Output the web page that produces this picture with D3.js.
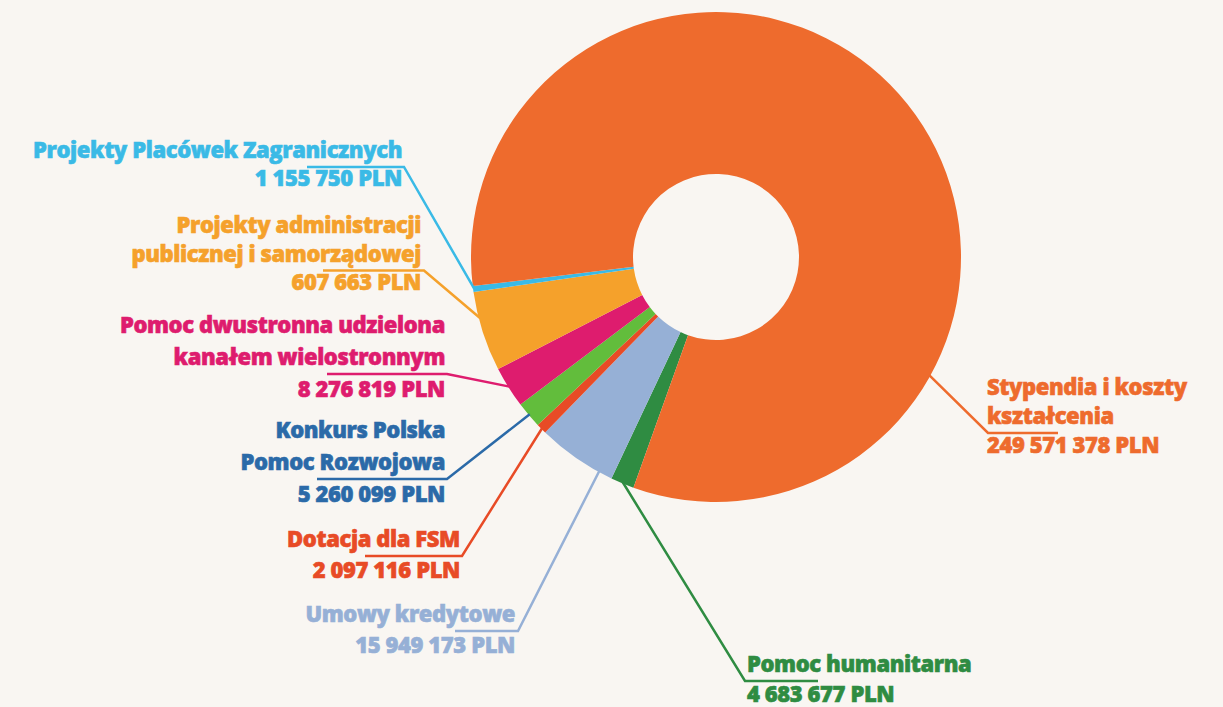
<!DOCTYPE html>
<html>
<head>
<meta charset="utf-8">
<script src="https://cdn.jsdelivr.net/npm/d3@7"></script>
<style>
  html, body { margin: 0; padding: 0; background: #F9F6F2; }
  svg { display: block; }
  text { font-family: "Open Sans", Lato, sans-serif; font-weight: 800; }
</style>
</head>
<body>
<svg id="chart" width="1223" height="707"></svg>
<script>
// ---- data (clockwise order, starting at the dark-green slice) ----
const categories = [
  "Pomoc humanitarna",
  "Umowy kredytowe",
  "Dotacja dla FSM",
  "Konkurs Polska Pomoc Rozwojowa",
  "Pomoc dwustronna udzielona kanałem wielostronnym",
  "Projekty administracji publicznej i samorządowej",
  "Projekty Placówek Zagranicznych",
  "Stypendia i koszty kształcenia"
];
// amounts printed in the labels (PLN)
const labelValues = [4683677, 15949173, 2097116, 5260099, 8276819, 607663, 1155750, 249571378];
// slice sizes as drawn in the picture (the yellow slice is drawn far larger than its label)
const sliceValues = [4683677, 15949173, 2097116, 5260099, 8276819, 16000000, 1155750, 249571378];
// label text lines (the amount line is added from labelValues)
const labelLines = [
  ["Pomoc humanitarna"],
  ["Umowy kredytowe"],
  ["Dotacja dla FSM"],
  ["Konkurs Polska", "Pomoc Rozwojowa"],
  ["Pomoc dwustronna udzielona", "kanałem wielostronnym"],
  ["Projekty administracji", "publicznej i samorządowej"],
  ["Projekty Placówek Zagranicznych"],
  ["Stypendia i koszty", "kształcenia"]
];
const sliceColors = ["#2F8C42", "#96B0D6", "#E84B26", "#62BD3C", "#DE1C6E", "#F5A12B", "#3ABAE6", "#EE6B2D"];
const textColors  = ["#2F8C42", "#96B0D6", "#E84B26", "#2B6AA8", "#DE1C6E", "#F5A12B", "#3ABAE6", "#EE6B2D"];

// ---- layout ----
const cx = 716, cy = 257, rOuter = 245, rInner = 83;
const deg = Math.PI / 180;
const startA = 199.7 * deg;

const svg = d3.select("#chart");
const g = svg.append("g").attr("transform", `translate(${cx},${cy})`);

const pie = d3.pie().sort(null).value(d => d.v).startAngle(startA).endAngle(startA + 2 * Math.PI);
const rows = categories.map((c, i) => ({ c, v: sliceValues[i], i }));
const arcs = pie(rows);
const arc = d3.arc().innerRadius(rInner).outerRadius(rOuter);

g.selectAll("path.slice").data(arcs).join("path")
  .attr("class", "slice")
  .attr("d", arc)
  .attr("fill", d => sliceColors[d.data.i]);

// label placement (positions only)
const layout = [
  { x: 747, y: 672, gap: 30, anchor: "start", uLine: 0, u0: 745, u1: 818, angle: null },
  { x: 515, y: 622, gap: 31, anchor: "end",   uLine: 0, u0: 455, u1: 518, angle: 208.6 },
  { x: 460, y: 547, gap: 31, anchor: "end",   uLine: 0, u0: 365, u1: 462, angle: null },
  { x: 445, y: 438, gap: 32, anchor: "end",   uLine: 1, u0: 317, u1: 447, angle: null },
  { x: 445, y: 333, gap: 32, anchor: "end",   uLine: 1, u0: 327, u1: 447, angle: null },
  { x: 421, y: 233, gap: 28.5, anchor: "end", uLine: 1, u0: 323, u1: 424, angle: 255.5 },
  { x: 402, y: 158, gap: 28, anchor: "end",   uLine: 0, u0: 307, u1: 404, angle: null },
  { x: 987, y: 395, gap: 29, anchor: "start", uLine: 1, u0: 988, u1: 1058, angle: 119 }
];

const fmt = v => d3.format(",")(v).replace(/,/g, " ") + " PLN";

const labels = svg.append("g");
arcs.forEach(a => {
  const i = a.data.i;
  const L = layout[i];
  const col = textColors[i];
  const lines = labelLines[i].concat([fmt(labelValues[i])]);
  const ang = L.angle != null ? L.angle * deg : (a.startAngle + a.endAngle) / 2;
  const px = cx + rOuter * 0.995 * Math.sin(ang);
  const py = cy - rOuter * 0.995 * Math.cos(ang);
  const uy = L.y + L.uLine * L.gap + 9;
  const joinX = L.anchor === "end" ? L.u1 : L.u0;
  const otherX = L.anchor === "end" ? L.u0 : L.u1;
  labels.append("path")
    .attr("d", d3.line()([[otherX, uy], [joinX, uy], [px, py]]))
    .attr("fill", "none")
    .attr("stroke", col)
    .attr("stroke-width", 2.5);
  const t = labels.append("text")
    .attr("text-anchor", L.anchor)
    .attr("fill", col)
    .attr("stroke", col)
    .attr("stroke-width", 0.6)
    .attr("font-size", 22)
    .attr("letter-spacing", -0.4);
  lines.forEach((ln, k) => {
    t.append("tspan").attr("x", L.x).attr("y", L.y + k * L.gap).text(ln);
  });
});
</script>
</body>
</html>
